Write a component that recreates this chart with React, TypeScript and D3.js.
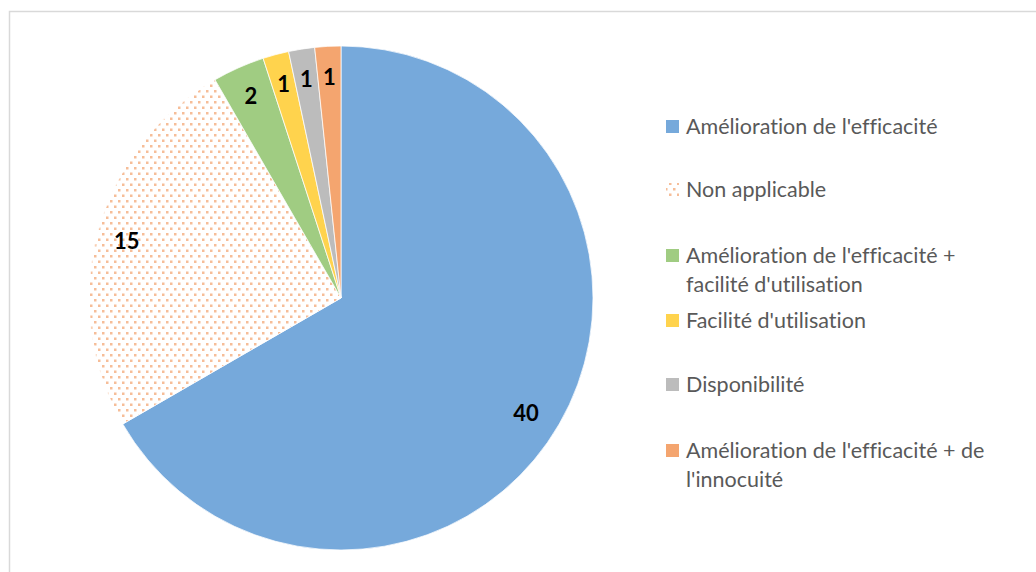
import React from "react";
import * as d3 from "d3";

const categories = [
  "Amélioration de l'efficacité",
  "Non applicable",
  "Amélioration de l'efficacité + facilité d'utilisation",
  "Facilité d'utilisation",
  "Disponibilité",
  "Amélioration de l'efficacité + de l'innocuité",
];
const values = [40, 15, 2, 1, 1, 1];
const legendLines = [
  ["Amélioration de l'efficacité"],
  ["Non applicable"],
  ["Amélioration de l'efficacité +", "facilité d'utilisation"],
  ["Facilité d'utilisation"],
  ["Disponibilité"],
  ["Amélioration de l'efficacité + de", "l'innocuité"],
];
const colors = ["#76a9db", "url(#dots)", "#a0cc82", "#ffd34d", "#bcbcbc", "#f4a56f"];
const legendY = [126, 189, 255, 320, 384, 450];

const W = 1036;
const H = 572;
const cx = 341;
const cy = 298;
const R = 252;
const FONT = "Lato, 'Open Sans', sans-serif";

export default function App() {
  const pie = d3
    .pie<number>()
    .sort(null)
    .value((d) => d)(values);
  const arc = d3.arc<d3.PieArcDatum<number>>().innerRadius(0).outerRadius(R);
  const labelArc = d3
    .arc<d3.PieArcDatum<number>>()
    .innerRadius(R * 0.88)
    .outerRadius(R * 0.88);

  return (
    <svg
      width={W}
      height={H}
      style={{ position: "absolute", left: 0, top: 0, background: "#fff", fontVariantLigatures: "none" }}
    >
      <defs>
        <pattern id="dots" width={8} height={11} patternUnits="userSpaceOnUse">
          <rect width={8} height={11} fill="#fff" />
          <rect x={1} y={1} width={2.5} height={2.5} fill="#f6bd98" />
          <rect x={5} y={6.5} width={2.5} height={2.5} fill="#f6bd98" />
        </pattern>
      </defs>
      <rect x={9.5} y={11.5} width={1040} height={580} fill="none" stroke="#d9d9d9" strokeWidth={1.5} />
      <g transform={`translate(${cx},${cy})`}>
        {pie.map((p, i) => (
          <path key={categories[i]} d={arc(p) || ""} fill={colors[i]} stroke="#fff" strokeWidth={0.75} />
        ))}
        {pie.map((p, i) => {
          let [x, y] = labelArc.centroid(p);
          if (i === 0) {
            x -= 7;
            y += 4;
          }
          return (
            <text
              key={"l" + i}
              x={x}
              y={y}
              textAnchor="middle"
              dominantBaseline="central"
              fontFamily={FONT}
              fontWeight="bold"
              fontSize={22}
              fill="#000"
            >
              {values[i]}
            </text>
          );
        })}
      </g>
      <g>
        {legendLines.map((lines, i) => (
          <g key={"lg" + i}>
            <rect x={666} y={legendY[i] - 6} width={13} height={13} fill={colors[i]} />
            {lines.map((t, j) => (
              <text
                key={j}
                x={686}
                y={legendY[i] + j * 29}
                dominantBaseline="central"
                fontFamily={FONT}
                fontSize={21.5}
                fill="#595959"
              >
                {t}
              </text>
            ))}
          </g>
        ))}
      </g>
    </svg>
  );
}
